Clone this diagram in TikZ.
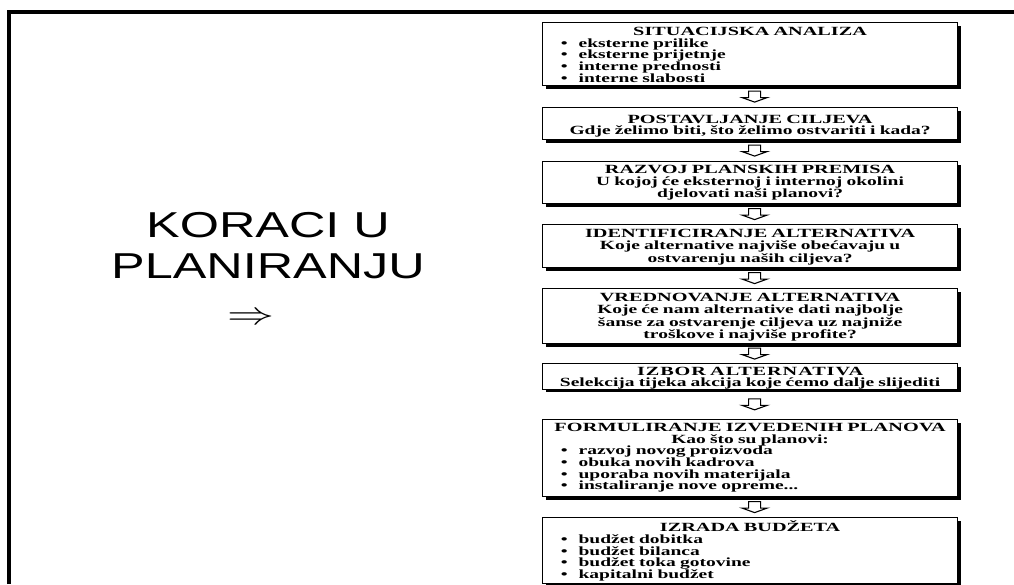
\documentclass[tikz,border=0pt]{standalone}
\usepackage{fontspec}
\usepackage{graphicx}
\setmainfont[FakeStretch=1.56]{Liberation Serif}
\newfontfamily\naslovfont[FakeStretch=1.62]{Liberation Serif}
\newfontfamily\sansfont[FakeStretch=1.4]{Liberation Sans}
\usetikzlibrary{calc,shadows}
\setlength\parindent{0pt}
\lineskiplimit=-20pt

% naslov, redak i stavka u okviru koraka
\newcommand\naslov[1]{{\centering\naslovfont\bfseries #1\par}}
\newcommand\redak[1]{{\centering #1\par}}
\newcommand\stavka[1]{{\raggedright\makebox[36pt][r]{\textbullet\hspace{11pt}}#1\par}}
% strelica izmedju dva koraka
\newcommand\strelica[2]{%
  \draw[line width=1.1pt,shift={($(#1.south)!0.5!(#2.north)+(4.5,0)$)}]
    (-6,-5.5) -- (6,-5.5) -- (6,1) -- (12.5,1) -- (0,5.5) -- (-12.5,1) -- (-6,1) -- cycle;}

\begin{document}
\begin{tikzpicture}
  [x=1pt,y=-1pt,
   korak/.style={draw,line width=1.2pt,fill=white,inner sep=0pt,
     text width=415pt,align=left,anchor=north west,
     drop shadow={shadow xshift=3pt,shadow yshift=-3pt,fill=black,opacity=1}},
   mjera/.style n args={3}{text height=#1pt,text depth=#2pt,
     font=\fontsize{12.5}{#3pt}\selectfont\bfseries}]
  \useasboundingbox[fill=white] (0,0) rectangle (1014,584);

  \draw[line width=3.8pt] (8.7,584) -- (8.7,11.7) -- (1014,11.7);

  \node[font=\sansfont\fontsize{36}{41}\selectfont,align=center,inner sep=0pt]
    (glavni) at (268,246) {KORACI U\\PLANIRANJU};
  \node[inner sep=0pt] (desno) at (251,319) {\scalebox{4.7}[3.2]{$\Rightarrow$}};

  \node[korak,mjera={12.5}{50.5}{11.9}] (k1) at (542,22) {%
    \naslov{SITUACIJSKA ANALIZA}
    \stavka{eksterne prilike}
    \stavka{eksterne prijetnje}
    \stavka{interne prednosti}
    \stavka{interne slabosti}};
  \node[korak,mjera={16}{16}{11}] (k2) at (542,107) {%
    \naslov{POSTAVLJANJE CILJEVA}
    \redak{Gdje želimo biti, što želimo ostvariti i kada?}};
  \node[korak,mjera={12}{30}{12}] (k3) at (542,161) {%
    \naslov{RAZVOJ PLANSKIH PREMISA}
    \redak{U kojoj će eksternoj i internoj okolini}
    \redak{djelovati naši planovi?}};
  \node[korak,mjera={12.5}{30.5}{12.6}] (k4) at (542,224) {%
    \naslov{IDENTIFICIRANJE ALTERNATIVA}
    \redak{Koje alternative najviše obećavaju u}
    \redak{ostvarenju naših ciljeva?}};
  \node[korak,mjera={13}{42}{12.3}] (k5) at (542,288) {%
    \naslov{VREDNOVANJE ALTERNATIVA}
    \redak{Koje će nam alternative dati najbolje}
    \redak{šanse za ostvarenje ciljeva uz najniže}
    \redak{troškove i najviše profite?}};
  \node[korak,mjera={12}{13.5}{11}] (k6) at (542,363) {%
    \naslov{\addfontfeature{LetterSpace=7.4}IZBOR ALTERNATIVA}
    \redak{Selekcija tijeka akcija koje ćemo dalje slijediti}};
  \node[korak,mjera={12}{65}{11.6}] (k7) at (542,419) {%
    \naslov{\addfontfeature{LetterSpace=1.4}FORMULIRANJE IZVEDENIH PLANOVA}
    \redak{Kao što su planovi:}
    \stavka{razvoj novog proizvoda}
    \stavka{obuka novih kadrova}
    \stavka{uporaba novih materijala}
    \stavka{instaliranje nove opreme...}};
  \node[korak,mjera={14}{52}{11.75}] (k8) at (542,517) {%
    \naslov{IZRADA BUDŽETA}
    \stavka{budžet dobitka}
    \stavka{budžet bilanca}
    \stavka{budžet toka gotovine}
    \stavka{kapitalni budžet}};

  \foreach \a/\b in {k1/k2,k2/k3,k3/k4,k4/k5,k5/k6,k6/k7,k7/k8}
    \strelica{\a}{\b};
\end{tikzpicture}
\end{document}
